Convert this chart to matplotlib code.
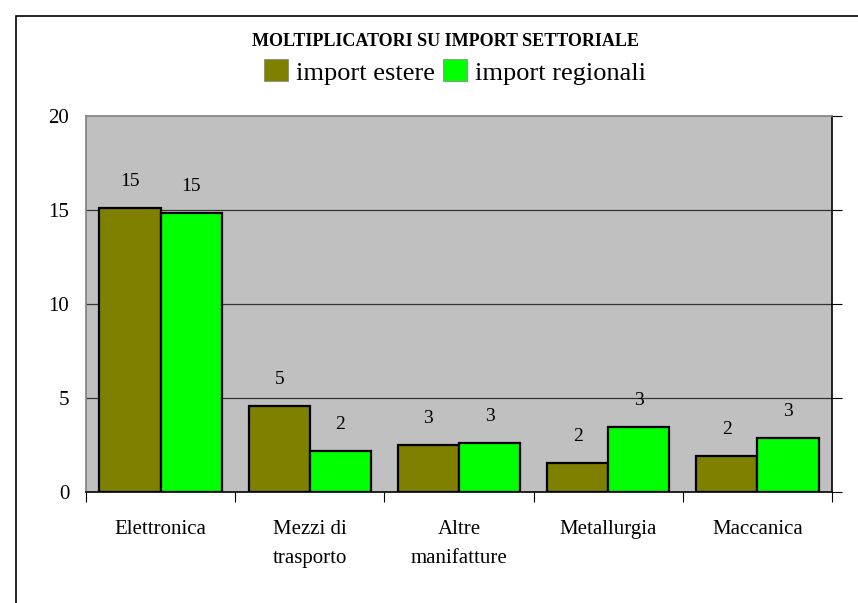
import matplotlib.pyplot as plt
import numpy as np

categories = ["Elettronica", "Mezzi di\ntrasporto", "Altre\nmanifatture", "Metallurgia", "Maccanica"]
import_estere = [15.1, 4.57, 2.52, 1.52, 1.91]
import_regionali = [14.84, 2.18, 2.6, 3.46, 2.87]
series_names = ["import estere", "import regionali"]
yticks = [0, 5, 10, 15, 20]

plt.rcParams["font.family"] = ["Liberation Serif", "DejaVu Serif"]

fig = plt.figure(figsize=(8.58, 6.03), dpi=100)
ax = fig.add_axes([86 / 858, 1 - 492 / 603, (832 - 86) / 858, (492 - 116) / 603])

# outer chart border
fig.add_artist(plt.Rectangle((16 / 858, -0.01), 1.0, 1 - 16 / 603 + 0.01,
                             transform=fig.transFigure, fill=False,
                             edgecolor="black", lw=1.2))

x = np.arange(len(categories))
w = 0.41
b1 = ax.bar(x - w / 2, import_estere, w, color="#808000", edgecolor="black", lw=1.6,
            label=series_names[0], zorder=3)
b2 = ax.bar(x + w / 2, import_regionali, w, color="#00FF00", edgecolor="black", lw=1.6,
            label=series_names[1], zorder=3)

for bars, vals in ((b1, import_estere), (b2, import_regionali)):
    for rect, v in zip(bars, vals):
        ax.annotate(f"{v:.0f}", (rect.get_x() + rect.get_width() / 2, v),
                    xytext=(0, 13), textcoords="offset points",
                    ha="center", va="bottom", fontsize=14)

ax.set_facecolor("#C0C0C0")
ax.set_xlim(-0.5, len(categories) - 0.5)
ax.set_ylim(0, 20)
ax.set_yticks(yticks)
ax.set_yticklabels([str(t) for t in yticks], fontsize=15)
for y in yticks[1:-1]:
    ax.axhline(y, color="#333333", lw=0.9, zorder=1)

# y ticks drawn on the right spine, labels on the left
ax.tick_params(axis="y", which="both", left=False, right=True, direction="out",
               length=7, pad=5, color="black")
ax.set_xticks(np.arange(-0.5, len(categories), 1.0))
ax.set_xticklabels([])
ax.set_xticks(x, minor=True)
ax.set_xticklabels(categories, minor=True, fontsize=15, linespacing=1.75)
ax.tick_params(axis="x", which="major", length=7, direction="out", color="black")
ax.tick_params(axis="x", which="minor", length=0, pad=20)

ax.spines["left"].set_color("#808080")
ax.spines["top"].set_color("#808080")
ax.spines["right"].set_color("black")
ax.spines["bottom"].set_color("black")
for s in ax.spines.values():
    s.set_linewidth(1.2)

fig.text(445 / 858, 1 - 42 / 603, "MOLTIPLICATORI SU IMPORT SETTORIALE",
         ha="center", va="center", fontsize=13, fontweight="bold")
fig.legend(handles=[b1, b2], labels=series_names, loc="center",
           bbox_to_anchor=(455 / 858, 1 - 72 / 603), ncol=2, frameon=False,
           fontsize=19, handlelength=0.9, handleheight=0.9, handletextpad=0.3,
           columnspacing=0.3, borderpad=0)
for h in fig.legends[0].legend_handles:
    h.set_edgecolor("#808080")
    h.set_linewidth(0.5)

fig.savefig("out.png", dpi=100)
